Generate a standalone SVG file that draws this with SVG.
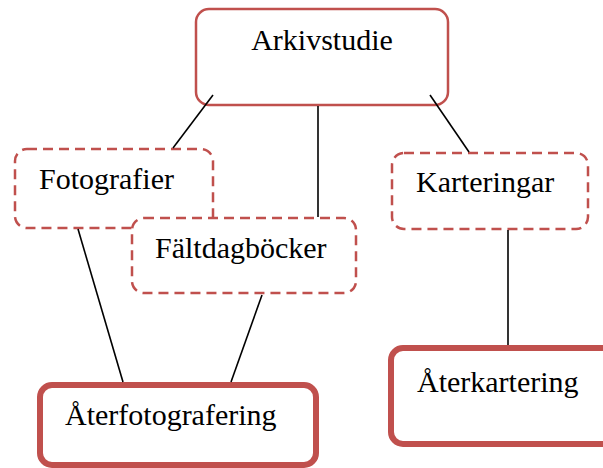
<svg xmlns="http://www.w3.org/2000/svg" width="603" height="468" viewBox="0 0 603 468">
<style>
.solid{fill:#fff;stroke:#c0504d;stroke-width:2.5}
.dash{fill:#fff;stroke:#c0504d;stroke-width:2.5;stroke-dasharray:10 6}
.thick{fill:#fff;stroke:#c0504d;stroke-width:6}
.lbl{font-family:"Liberation Serif","Times New Roman",serif;font-size:30px;fill:#000}
.conn line{stroke:#000;stroke-width:1.6}
</style>
<rect width="603" height="468" fill="#fff"/>
<g id="arkivstudie">
<rect class="solid" x="196" y="9" width="252" height="96" rx="13"/>
<text class="lbl" x="322" y="50" text-anchor="middle">Arkivstudie</text>
</g>
<g id="fotografier">
<rect class="dash" x="15" y="149" width="198" height="79" rx="12"/>
<text class="lbl" x="39" y="189">Fotografier</text>
</g>
<g id="faltdagbocker">
<rect class="dash" x="132" y="218" width="224" height="75" rx="12"/>
<text class="lbl" x="155" y="258">Fältdagböcker</text>
</g>
<g id="karteringar">
<rect class="dash" x="392" y="153" width="196" height="76" rx="12"/>
<text class="lbl" x="416" y="192">Karteringar</text>
</g>
<g id="aterfotografering">
<rect class="thick" x="40" y="385" width="276" height="80" rx="12"/>
<text class="lbl" x="65" y="425">Återfotografering</text>
</g>
<g id="aterkartering">
<rect class="thick" x="391" y="348" width="240" height="96" rx="12"/>
<text class="lbl" x="417" y="392">Återkartering</text>
</g>
<g id="connectors" class="conn">
<line x1="213" y1="95" x2="173" y2="148"/>
<line x1="318" y1="106" x2="318" y2="217"/>
<line x1="430" y1="95" x2="469" y2="152"/>
<line x1="78" y1="229" x2="123" y2="382"/>
<line x1="262" y1="295" x2="231" y2="382"/>
<line x1="508" y1="230" x2="508" y2="345"/>
</g>
</svg>
